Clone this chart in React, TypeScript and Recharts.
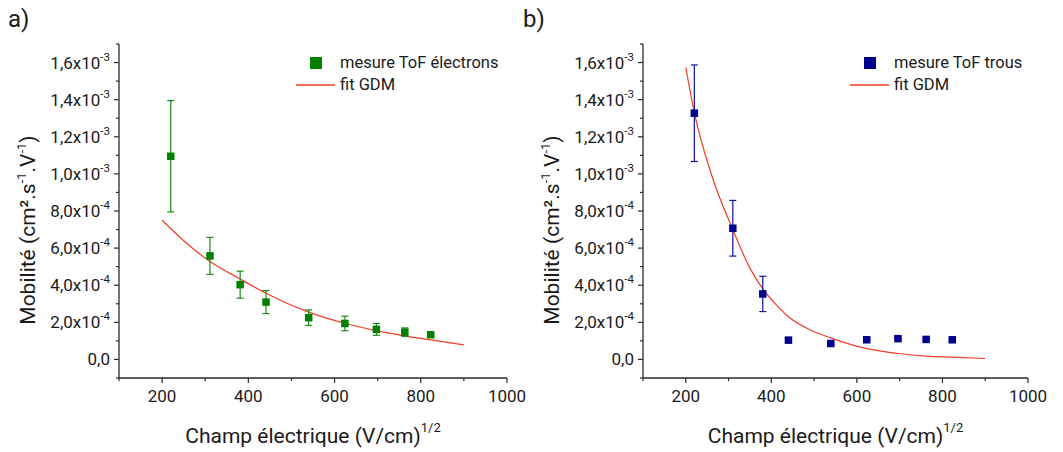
import React from 'react';
import { ComposedChart, Scatter, Line, XAxis, YAxis, ErrorBar, Legend, Label } from 'recharts';

// ---------- data ----------
const fieldElectrons = [220, 311, 381, 441, 540, 624, 697, 763, 823];
const muElectrons = [1.095e-3, 5.58e-4, 4.03e-4, 3.09e-4, 2.25e-4, 1.94e-4, 1.62e-4, 1.47e-4, 1.33e-4];
const errElectrons = [3.0e-4, 1.0e-4, 7.3e-5, 6.2e-5, 4.2e-5, 3.9e-5, 3.2e-5, 2.3e-5, 1.0e-5];
const fitFieldElectrons = [200, 250, 311, 380, 440, 540, 623, 697, 762, 823, 900];
const fitMuElectrons = [7.5e-4, 6.4e-4, 5.28e-4, 4.35e-4, 3.58e-4, 2.55e-4, 1.95e-4, 1.55e-4, 1.27e-4, 1.05e-4, 7.9e-5];

const fieldHoles = [220, 310, 380, 440, 539, 623, 696, 762, 823];
const muHoles = [1.327e-3, 7.07e-4, 3.53e-4, 1.04e-4, 8.6e-5, 1.06e-4, 1.12e-4, 1.08e-4, 1.06e-4];
const errHoles = [2.6e-4, 1.5e-4, 9.5e-5, 1.2e-5, 5e-6, 5e-6, 5e-6, 5e-6, 5e-6];
const fitFieldHoles = [200, 220, 260, 310, 350, 380, 410, 440, 490, 540, 623, 697, 762, 823, 900];
const fitMuHoles = [1.574e-3, 1.33e-3, 9.97e-4, 7.0e-4, 4.92e-4, 3.8e-4, 2.98e-4, 2.3e-4, 1.6e-4, 1.15e-4, 5.8e-5, 3.2e-5, 1.8e-5, 1.2e-5, 5e-6];

const xTicks = [100, 200, 300, 400, 500, 600, 700, 800, 900, 1000];
const xLabelTicks = [200, 400, 600, 800, 1000];
const xLabels = ['200', '400', '600', '800', '1000'];

const yTicks = [-1e-4, 0, 1e-4, 2e-4, 3e-4, 4e-4, 5e-4, 6e-4, 7e-4, 8e-4, 9e-4, 1e-3, 1.1e-3, 1.2e-3, 1.3e-3, 1.4e-3, 1.5e-3, 1.6e-3, 1.7e-3];
const yLabelTicks = [0, 2e-4, 4e-4, 6e-4, 8e-4, 1e-3, 1.2e-3, 1.4e-3, 1.6e-3];
const yLabelMantissa = ['0,0', '2,0x10', '4,0x10', '6,0x10', '8,0x10', '1,0x10', '1,2x10', '1,4x10', '1,6x10'];
const yLabelExponent = ['', '-4', '-4', '-4', '-4', '-3', '-3', '-3', '-3'];

// ---------- styling ----------
const FONT = 'Roboto, "Noto Sans", sans-serif';
const AXIS = '#2a2a2a';
const TEXT = '#1a1a1a';
const RED = '#ef3d26';

const findIdx = (arr: number[], v: number) => arr.findIndex((a) => Math.abs(a - v) < 1e-9);

const BottomTick = (props: any) => {
  const { x, y, payload } = props;
  const i = findIdx(xLabelTicks, payload.value);
  const major = i >= 0;
  return (
    <g>
      <line x1={x} x2={x} y1={y} y2={y + (major ? 5 : 3)} stroke={AXIS} strokeWidth={1.2} />
      {major && (
        <text x={x} y={y + 24} textAnchor="middle" fontSize={17} fill={TEXT} fontFamily={FONT}>
          {xLabels[i]}
        </text>
      )}
    </g>
  );
};

const TopTick = (props: any) => {
  const { x, y } = props;
  return <line x1={x} x2={x} y1={y} y2={y - 3} stroke={AXIS} strokeWidth={1.2} />;
};

const LeftTick = (props: any) => {
  const { x, y, payload } = props;
  const i = findIdx(yLabelTicks, payload.value);
  const major = i >= 0;
  return (
    <g>
      <line x1={x} x2={x - (major ? 5 : 3)} y1={y} y2={y} stroke={AXIS} strokeWidth={1.2} />
      {major && (
        <text x={x - 9} y={y + 6} textAnchor="end" fontSize={17} fill={TEXT} fontFamily={FONT}>
          {yLabelMantissa[i]}
          {yLabelExponent[i] ? (
            <tspan dy={-8} fontSize={11.5}>
              {yLabelExponent[i]}
            </tspan>
          ) : null}
        </text>
      )}
    </g>
  );
};

const RightTick = (props: any) => {
  const { x, y } = props;
  return <line x1={x} x2={x + 3} y1={y} y2={y} stroke={AXIS} strokeWidth={1.2} />;
};

const YTitle = (props: any) => {
  const { viewBox, bx } = props;
  const cx = viewBox.x + bx;
  const cy = viewBox.y + viewBox.height / 2 + 19;
  return (
    <text
      x={cx}
      y={cy}
      transform={`rotate(-90 ${cx} ${cy})`}
      textAnchor="middle"
      fontSize={21}
      fill={TEXT}
      fontFamily={FONT}
    >
      Mobilité (cm²
      <tspan>.s</tspan>
      <tspan dy={-9} fontSize={13}>-1</tspan>
      <tspan dy={9}>.V</tspan>
      <tspan dy={-9} fontSize={13}>-1</tspan>
      <tspan dy={9}>)</tspan>
    </text>
  );
};

const XTitle = (props: any) => {
  const { viewBox } = props;
  const cx = viewBox.x + viewBox.width / 2;
  const cy = viewBox.y + 65;
  return (
    <text x={cx} y={cy} textAnchor="middle" fontSize={21} fill={TEXT} fontFamily={FONT}>
      Champ électrique (V/cm)
      <tspan dy={-11} fontSize={13}>1/2</tspan>
    </text>
  );
};

type PanelProps = {
  width: number;
  leftW: number;
  rightM: number;
  titleX: number;
  color: string;
  errColor: string;
  seriesName: string;
  xs: number[];
  ys: number[];
  errs: number[];
  fitXs: number[];
  fitYs: number[];
  legendLeft: number;
  tag: string;
  tagLeft: number;
};

const Panel = (p: PanelProps) => {
  const pts = p.xs.map((x, i) => ({ x, y: p.ys[i], err: p.errs[i] }));
  const fit = p.fitXs.map((x, i) => ({ x, y: p.fitYs[i] }));

  const legendContent = () => (
    <div style={{ fontFamily: FONT, fontSize: 16.5, color: TEXT }}>
      <div style={{ display: 'flex', alignItems: 'center', height: 22 }}>
        <svg width={44} height={22} style={{ display: 'block' }}>
          <rect x={14} y={5} width={12} height={12} fill={p.color} />
        </svg>
        <span style={{ whiteSpace: 'nowrap', lineHeight: '22px' }}>{p.seriesName}</span>
      </div>
      <div style={{ display: 'flex', alignItems: 'center', height: 22 }}>
        <svg width={44} height={22} style={{ display: 'block' }}>
          <line x1={0} x2={39} y1={11} y2={11} stroke={RED} strokeWidth={1.5} />
        </svg>
        <span style={{ whiteSpace: 'nowrap', lineHeight: '22px' }}>fit GDM</span>
      </div>
    </div>
  );

  return (
    <div style={{ position: 'relative', width: p.width, height: 452 }}>
      <div
        style={{
          position: 'absolute',
          left: p.tagLeft,
          top: 7,
          fontFamily: FONT,
          fontSize: 24,
          lineHeight: '24px',
          color: TEXT,
        }}
      >
        {p.tag}
      </div>
      <ComposedChart
        width={p.width}
        height={452}
        margin={{ top: 44, right: p.rightM, bottom: 0, left: 0 }}
        style={{ position: 'absolute', left: 0, top: 0 }}
      >
        <XAxis
          dataKey="x"
          type="number"
          domain={[100, 1000]}
          ticks={xTicks}
          interval={0}
          allowDataOverflow
          height={74}
          tickSize={0}
          tickMargin={0}
          tickLine={false}
          tick={<BottomTick />}
          axisLine={{ stroke: AXIS, strokeWidth: 1.3 }}
        >
          <Label content={(lp: any) => <XTitle {...lp} />} />
        </XAxis>
        <XAxis
          xAxisId="top"
          orientation="top"
          type="number"
          domain={[100, 1000]}
          ticks={xTicks}
          interval={0}
          allowDataOverflow
          height={0}
          tickSize={0}
          tickMargin={0}
          tickLine={false}
          tick={<TopTick />}
          axisLine={{ stroke: AXIS, strokeWidth: 1.3 }}
        />
        <YAxis
          type="number"
          domain={[-1e-4, 1.7e-3]}
          ticks={yTicks}
          interval={0}
          allowDataOverflow
          width={p.leftW}
          tickSize={0}
          tickMargin={0}
          tickLine={false}
          tick={<LeftTick />}
          axisLine={{ stroke: AXIS, strokeWidth: 1.3 }}
        >
          <Label content={(lp: any) => <YTitle {...lp} bx={p.titleX} />} />
        </YAxis>
        <YAxis
          yAxisId="right"
          orientation="right"
          type="number"
          domain={[-1e-4, 1.7e-3]}
          ticks={yTicks}
          interval={0}
          allowDataOverflow
          width={0}
          tickSize={0}
          tickMargin={0}
          tickLine={false}
          tick={<RightTick />}
          axisLine={{ stroke: AXIS, strokeWidth: 1.3 }}
        />
        <Line
          data={fit}
          dataKey="y"
          type="monotone"
          stroke={RED}
          strokeWidth={1.2}
          dot={false}
          activeDot={false}
          isAnimationActive={false}
          legendType="none"
        />
        <Scatter
          data={pts}
          dataKey="y"
          fill={p.color}
          isAnimationActive={false}
          shape={(sp: any) => (
            <rect x={sp.cx - 3.75} y={sp.cy - 3.75} width={7.5} height={7.5} fill={p.color} />
          )}
        >
          <ErrorBar dataKey="err" direction="y" width={3.5} stroke={p.errColor} strokeWidth={1.2} isAnimationActive={false} />
        </Scatter>
        <Legend
          layout="vertical"
          align="center"
          verticalAlign="middle"
          content={legendContent}
          wrapperStyle={{ left: p.legendLeft, top: 52, width: 240, height: 44 }}
        />
      </ComposedChart>
    </div>
  );
};

export default function App() {
  return (
    <div
      style={{
        position: 'absolute',
        left: 0,
        top: 0,
        width: 1063,
        height: 452,
        background: '#ffffff',
        display: 'flex',
      }}
    >
      <Panel
        width={530}
        leftW={119}
        rightM={23}
        titleX={35}
        color="#008000"
        errColor="#1a8a1a"
        seriesName="mesure ToF électrons"
        xs={fieldElectrons}
        ys={muElectrons}
        errs={errElectrons}
        fitXs={fitFieldElectrons}
        fitYs={fitMuElectrons}
        legendLeft={296}
        tag="a)"
        tagLeft={8}
      />
      <Panel
        width={533}
        leftW={113}
        rightM={35}
        titleX={29}
        color="#000090"
        errColor="#10109a"
        seriesName="mesure ToF trous"
        xs={fieldHoles}
        ys={muHoles}
        errs={errHoles}
        fitXs={fitFieldHoles}
        fitYs={fitMuHoles}
        legendLeft={320}
        tag="b)"
        tagLeft={-7}
      />
    </div>
  );
}
